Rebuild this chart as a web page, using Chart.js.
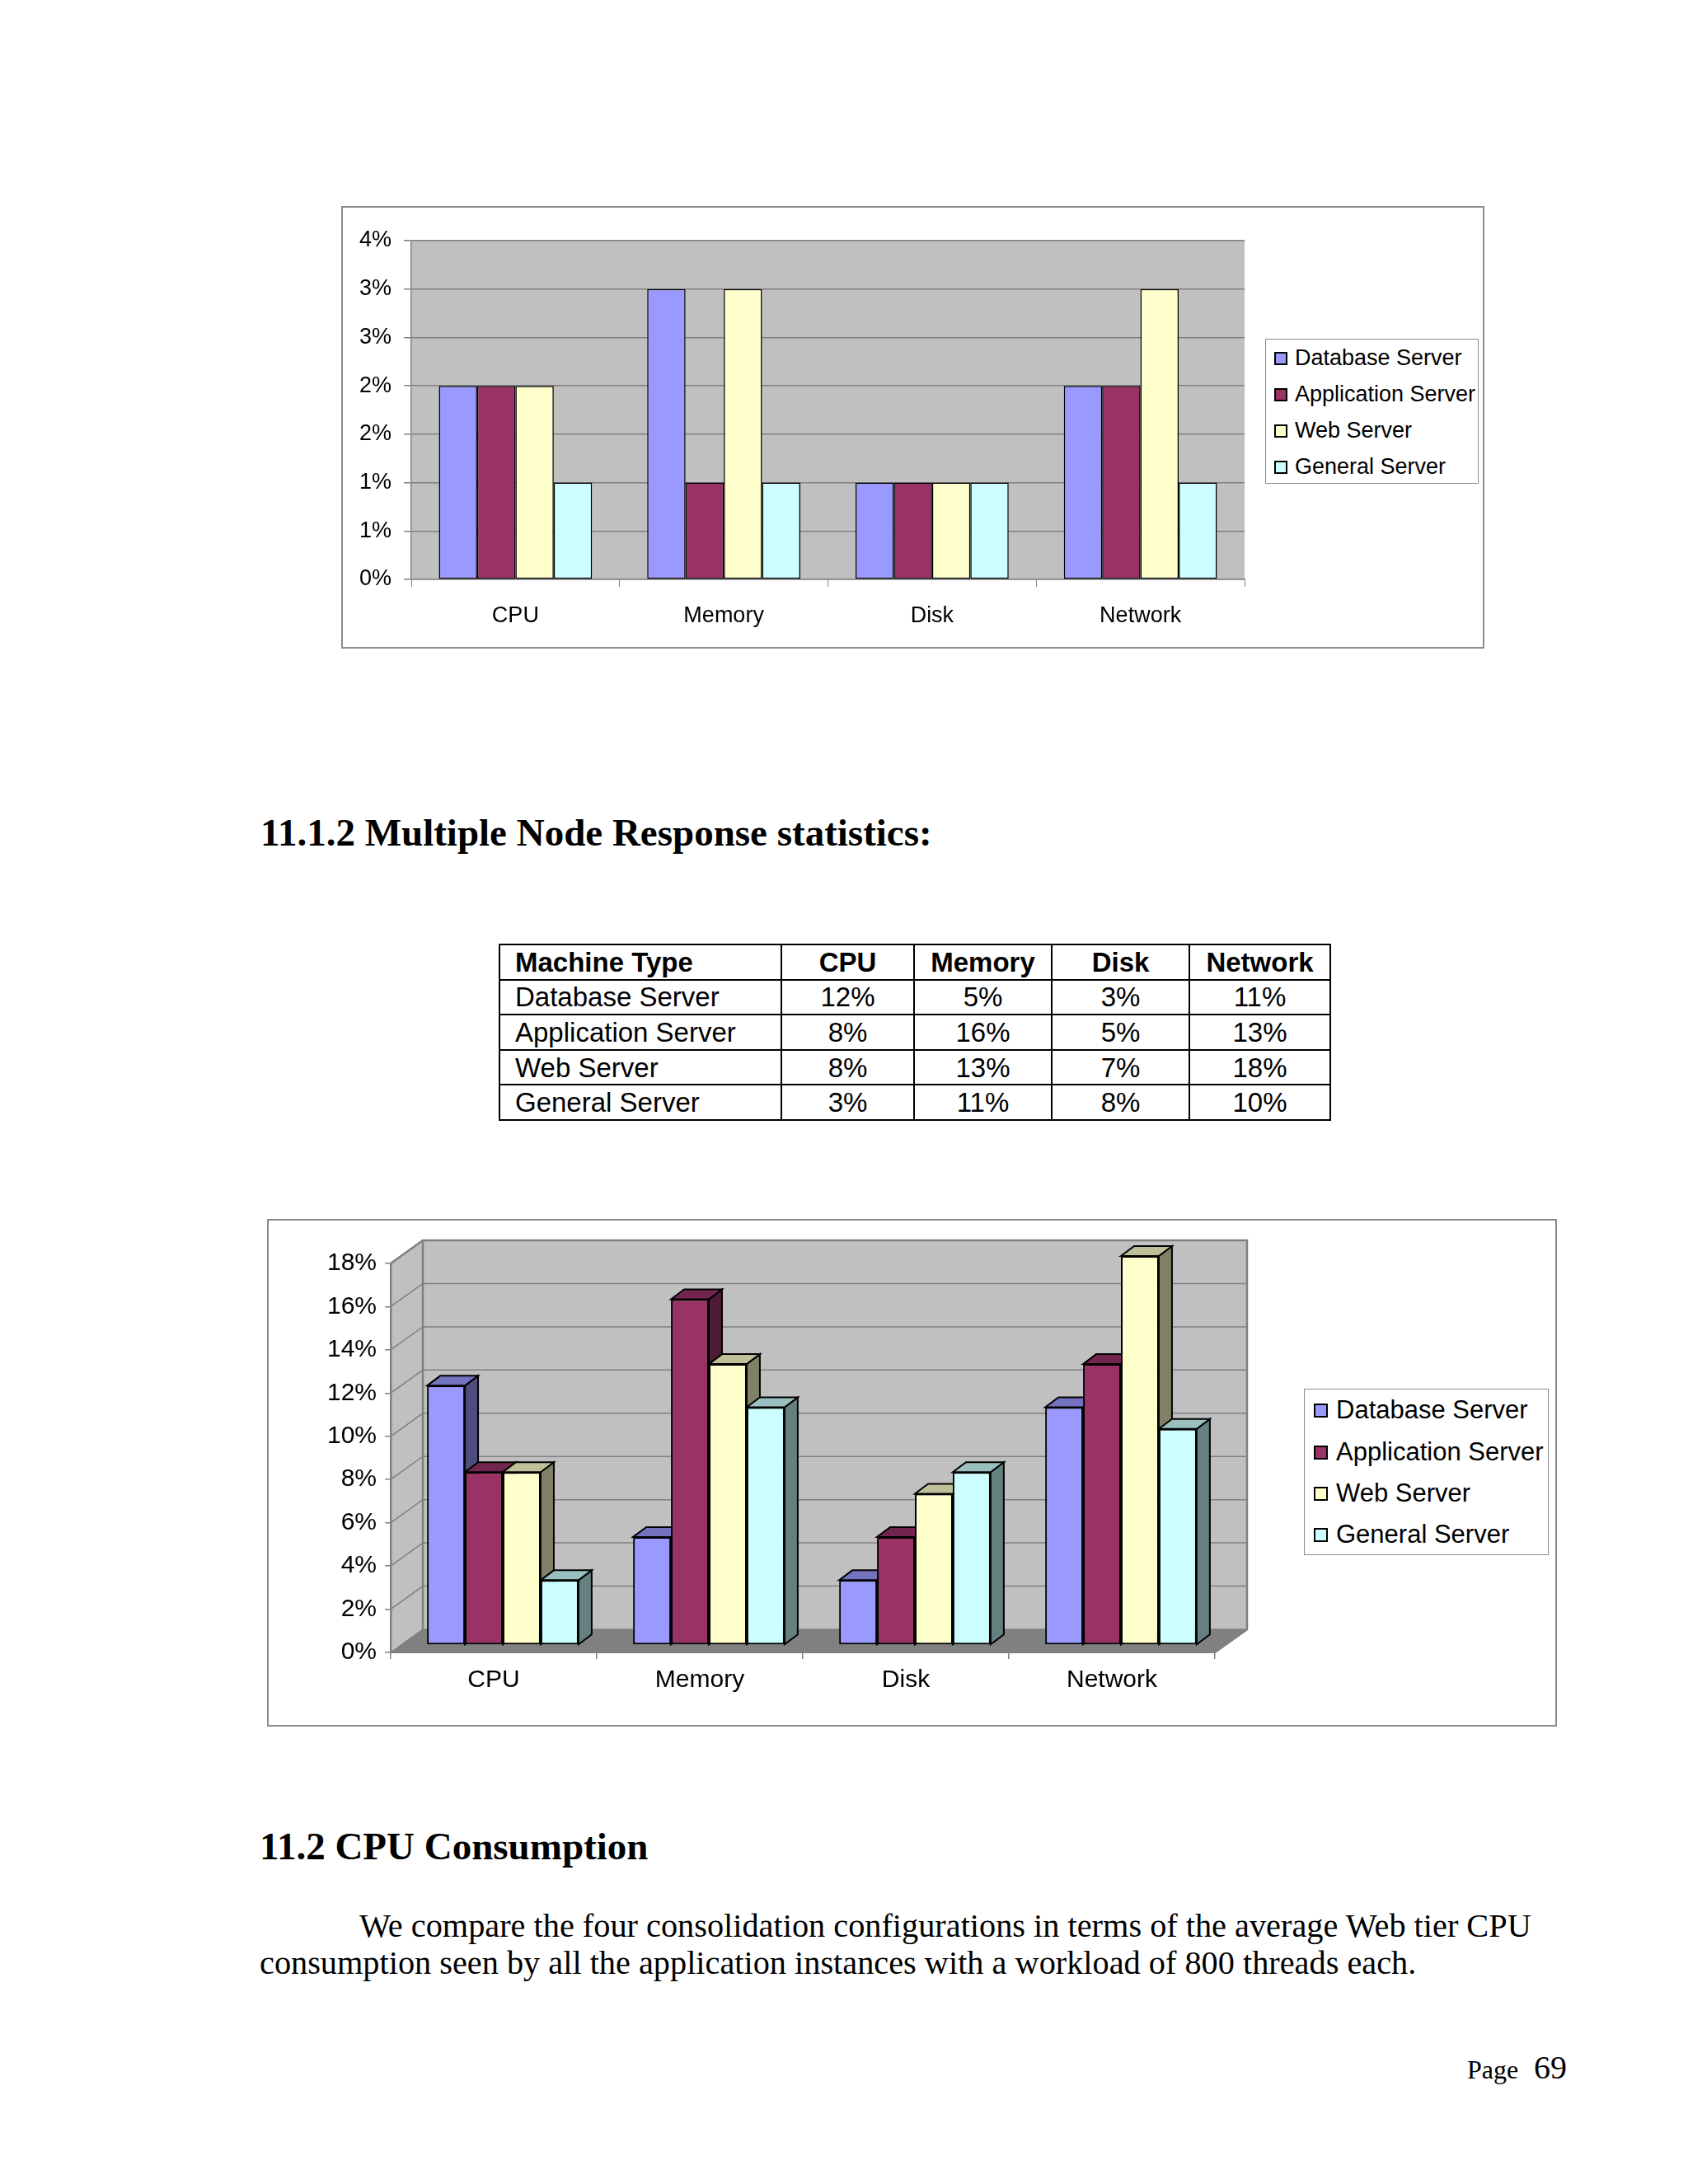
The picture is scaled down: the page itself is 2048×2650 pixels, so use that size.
<!DOCTYPE html>
<html>
<head>
<meta charset="utf-8">
<script src="https://cdn.jsdelivr.net/npm/chart.js@4.4.1/dist/chart.umd.min.js"></script>
<style>
  html, body { margin: 0; padding: 0; background: #fff; }
  body { position: relative; width: 2048px; height: 2650px; overflow: hidden; font-family: "Liberation Sans", Arial, sans-serif; color: #000; }
  .abs { position: absolute; }
  .frame { position: absolute; border: 2px solid #8c8c8c; box-sizing: border-box; background: #fff; }
  .serif { font-family: "Liberation Serif", "Times New Roman", serif; line-height: 1; white-space: nowrap; }
  .legend { position: absolute; border: 1.5px solid #8c8c8c; box-sizing: border-box; background: #fff; }
  .legend .item { position: absolute; white-space: nowrap; line-height: 1; }
  .legend .sw { position: absolute; border: 2px solid #000; box-sizing: border-box; }
  table.stats { position: absolute; left: 605px; top: 1145px; width: 1008px; table-layout: fixed; border-collapse: collapse; font-size: 33px; }
  table.stats tr { height: 42.6px; }
  table.stats td, table.stats th { border: 2px solid #000; padding: 0; line-height: 1; overflow: hidden; white-space: nowrap; }
  table.stats th { font-weight: bold; text-align: center; }
  table.stats td { text-align: center; }
  table.stats .first { text-align: left; padding-left: 18px; }
</style>
</head>
<body>

<div class="frame" style="left:414px; top:250px; width:1387px; height:537px;"></div>
<canvas id="singleChart" class="abs" style="left:414px; top:250px;"></canvas>
<div id="singleLegend" class="legend" style="left:1535px; top:411px; width:259px; height:176px;"></div>

<div class="serif abs" style="left:316px; top:987px; font-size:47px; font-weight:bold;">11.1.2 Multiple Node Response statistics:</div>

<table class="stats" id="statsTable"></table>

<div class="frame" style="left:324px; top:1479px; width:1565px; height:616px;"></div>
<canvas id="multiChart" class="abs" style="left:324px; top:1479px;"></canvas>
<div id="multiLegend" class="legend" style="left:1582px; top:1685px; width:297px; height:202px;"></div>

<div class="serif abs" style="left:315px; top:2217px; font-size:47px; font-weight:bold;">11.2 CPU Consumption</div>
<div class="serif abs" style="left:436px; top:2317px; font-size:40.3px;">We compare the four consolidation configurations in terms of the average Web tier CPU</div>
<div class="serif abs" style="left:315px; top:2362px; font-size:40.3px;">consumption seen by all the application instances with a workload of 800 threads each.</div>
<div class="serif abs" style="left:1780px; top:2495px; font-size:32px;">Page</div>
<div class="serif abs" style="left:1861px; top:2489px; font-size:40px;">69</div>

<script>
const categories = ["CPU", "Memory", "Disk", "Network"];
const seriesNames = ["Database Server", "Application Server", "Web Server", "General Server"];
const seriesColors = ["#9999FF", "#993366", "#FFFFCC", "#CCFFFF"];

// single node chart (upper), percent values
const dbSingle = [2, 3, 1, 2];
const appSingle = [2, 1, 1, 2];
const webSingle = [2, 3, 1, 3];
const genSingle = [1, 1, 1, 1];
const singleTicks = [0, 0.5, 1, 1.5, 2, 2.5, 3, 3.5];

// multiple node response statistics (table + 3D chart)
const dbMulti = [12, 5, 3, 11];
const appMulti = [8, 16, 5, 13];
const webMulti = [8, 13, 7, 18];
const genMulti = [3, 11, 8, 10];
const multiTicks = [0, 2, 4, 6, 8, 10, 12, 14, 16, 18];

Chart.defaults.font.family = "'Liberation Sans', Arial, sans-serif";
Chart.defaults.color = "#000";
Chart.defaults.animation = false;

function shade(hex, f) {
  const n = parseInt(hex.slice(1), 16);
  const r = Math.round(((n >> 16) & 255) * f);
  const g = Math.round(((n >> 8) & 255) * f);
  const b = Math.round((n & 255) * f);
  return `rgb(${r},${g},${b})`;
}

function buildLegend(id, fontSize, rowTops, swX, swSize, textX) {
  const box = document.getElementById(id);
  seriesNames.forEach((name, i) => {
    const sw = document.createElement("div");
    sw.className = "sw";
    sw.style.left = swX + "px";
    sw.style.top = (rowTops[i] - swSize / 2) + "px";
    sw.style.width = swSize + "px";
    sw.style.height = swSize + "px";
    sw.style.background = seriesColors[i];
    box.appendChild(sw);
    const t = document.createElement("div");
    t.className = "item";
    t.style.left = textX + "px";
    t.style.top = (rowTops[i] - fontSize * 0.52) + "px";
    t.style.fontSize = fontSize + "px";
    t.textContent = name;
    box.appendChild(t);
  });
}

function buildTable() {
  const tbl = document.getElementById("statsTable");
  const widths = [342, 161, 167, 167, 171];
  const rows = [dbMulti, appMulti, webMulti, genMulti];
  let html = "<colgroup>" + widths.map((w) => `<col style="width:${w}px">`).join("") + "</colgroup><tr>";
  ["Machine Type"].concat(categories).forEach((h, i) => {
    html += `<th class="${i === 0 ? "first" : ""}">${h}</th>`;
  });
  html += "</tr>";
  rows.forEach((vals, r) => {
    html += `<tr><td class="first">${seriesNames[r]}</td>`;
    vals.forEach((v) => { html += `<td>${v}%</td>`; });
    html += "</tr>";
  });
  tbl.innerHTML = html;
}

const plotBg = {
  id: "plotBg",
  beforeDraw(chart) {
    const a = chart.chartArea;
    const ctx = chart.ctx;
    ctx.save();
    ctx.fillStyle = "#C0C0C0";
    ctx.fillRect(a.left, a.top, a.right - a.left, a.bottom - a.top);
    ctx.restore();
  },
};

// 3D walls + extruded bars for the lower chart
const DX = 39, DY = -28;      // wall depth
const BDX = 16, BDY = -12;    // bar depth
const SHIFT_X = 11, SHIFT_Y = -9;

const walls3d = {
  id: "walls3d",
  beforeDraw(chart) {
    const a = chart.chartArea;
    const ctx = chart.ctx;
    const ys = chart.scales.y;
    const L = a.left, R = a.right, T = a.top, B = a.bottom;
    ctx.save();
    ctx.lineJoin = "miter";
    // floor
    ctx.fillStyle = "#808080";
    ctx.beginPath();
    ctx.moveTo(L, B); ctx.lineTo(R, B); ctx.lineTo(R + DX, B + DY); ctx.lineTo(L + DX, B + DY);
    ctx.closePath(); ctx.fill();
    // left wall
    ctx.fillStyle = "#C0C0C0";
    ctx.beginPath();
    ctx.moveTo(L, B); ctx.lineTo(L, T); ctx.lineTo(L + DX, T + DY); ctx.lineTo(L + DX, B + DY);
    ctx.closePath(); ctx.fill();
    // back wall
    ctx.fillRect(L + DX, T + DY, R - L, B - T);
    // grid lines
    ctx.strokeStyle = "#808080";
    ctx.lineWidth = 1.5;
    multiTicks.forEach((v) => {
      const y = ys.getPixelForValue(v);
      ctx.beginPath();
      ctx.moveTo(L, y); ctx.lineTo(L + DX, y + DY); ctx.lineTo(R + DX, y + DY);
      ctx.stroke();
    });
    // wall edges
    ctx.lineWidth = 2.5;
    ctx.beginPath();
    ctx.moveTo(L, T); ctx.lineTo(L + DX, T + DY); ctx.lineTo(R + DX, T + DY);
    ctx.lineTo(R + DX, B + DY); ctx.lineTo(R, B);
    ctx.moveTo(L + DX, T + DY); ctx.lineTo(L + DX, B + DY);
    ctx.stroke();
    ctx.restore();
  },
  beforeDatasetsDraw(chart) {
    const ctx = chart.ctx;
    ctx.save();
    ctx.translate(SHIFT_X, SHIFT_Y);
    ctx.lineWidth = 2;
    ctx.strokeStyle = "#000";
    ctx.lineJoin = "miter";
    chart.data.datasets.forEach((ds, di) => {
      const meta = chart.getDatasetMeta(di);
      meta.data.forEach((el) => {
        const p = el.getProps(["x", "y", "base", "width"], true);
        const l = p.x - p.width / 2, r = p.x + p.width / 2;
        // side
        ctx.fillStyle = shade(seriesColors[di], 0.5);
        ctx.beginPath();
        ctx.moveTo(r, p.y); ctx.lineTo(r + BDX, p.y + BDY); ctx.lineTo(r + BDX, p.base + BDY); ctx.lineTo(r, p.base);
        ctx.closePath(); ctx.fill(); ctx.stroke();
        // top
        ctx.fillStyle = shade(seriesColors[di], 0.75);
        ctx.beginPath();
        ctx.moveTo(l, p.y); ctx.lineTo(l + BDX, p.y + BDY); ctx.lineTo(r + BDX, p.y + BDY); ctx.lineTo(r, p.y);
        ctx.closePath(); ctx.fill(); ctx.stroke();
      });
    });
  },
  afterDatasetsDraw(chart) {
    chart.ctx.restore();
  },
};

function makeDatasets(seriesList, bw) {
  return seriesList.map((vals, i) => ({
    label: seriesNames[i],
    data: vals,
    backgroundColor: seriesColors[i],
    borderColor: "#000",
    borderWidth: bw,
    borderSkipped: false,
    categoryPercentage: 0.735,
    barPercentage: 1.0,
  }));
}

function drawSingleChart() {
  const cv = document.getElementById("singleChart");
  cv.width = 1387; cv.height = 537;
  cv.style.width = "1387px"; cv.style.height = "537px";
  new Chart(cv.getContext("2d"), {
    type: "bar",
    data: { labels: categories, datasets: makeDatasets([dbSingle, appSingle, webSingle, genSingle], 1.5) },
    options: {
      responsive: false,
      layout: { padding: { top: 42, right: 291, bottom: 0, left: 0 } },
      plugins: { legend: { display: false }, tooltip: { enabled: false } },
      scales: {
        x: {
          afterFit: (s) => { s.height = 84; },
          grid: { drawOnChartArea: false, tickLength: 9, color: "#808080", offset: true },
          border: { color: "#808080", width: 1.5 },
          ticks: { font: { size: 27 }, padding: 19, color: "#000" },
        },
        y: {
          min: 0, max: 3.5,
          afterFit: (s) => { s.width = 85; },
          afterBuildTicks: (s) => { s.ticks = singleTicks.map((v) => ({ value: v })); },
          grid: { color: "#808080", lineWidth: 1.5, tickLength: 9 },
          border: { color: "#808080", width: 1.5 },
          ticks: { font: { size: 27 }, padding: 15, color: "#000", callback: (v) => Math.round(v) + "%" },
        },
      },
    },
    plugins: [plotBg],
  });
}

function drawMultiChart() {
  const cv = document.getElementById("multiChart");
  cv.width = 1565; cv.height = 616;
  cv.style.width = "1565px"; cv.style.height = "616px";
  new Chart(cv.getContext("2d"), {
    type: "bar",
    data: { labels: categories, datasets: makeDatasets([dbMulti, appMulti, webMulti, genMulti], 2) },
    options: {
      responsive: false,
      layout: { padding: { top: 54, right: 415, bottom: 0, left: 0 } },
      plugins: { legend: { display: false }, tooltip: { enabled: false } },
      scales: {
        x: {
          afterFit: (s) => { s.height = 90; },
          grid: { drawOnChartArea: false, tickLength: 8, color: "#808080", lineWidth: 1.5, offset: true },
          border: { color: "#808080", width: 2 },
          ticks: { font: { size: 30 }, padding: 8, color: "#000" },
        },
        y: {
          min: 0, max: 18,
          afterFit: (s) => { s.width = 150; },
          afterBuildTicks: (s) => { s.ticks = multiTicks.map((v) => ({ value: v })); },
          grid: { drawOnChartArea: false, tickLength: 7, color: "#808080", lineWidth: 1.5 },
          border: { color: "#808080", width: 2.5 },
          ticks: { font: { size: 30 }, padding: 10, color: "#000", callback: (v) => v + "%" },
        },
      },
    },
    plugins: [walls3d],
  });
}

document.addEventListener("DOMContentLoaded", () => {
  buildTable();
  buildLegend("singleLegend", 27, [23, 67, 111, 155], 10, 16, 35);
  buildLegend("multiLegend", 31, [25, 76, 126, 176], 11, 17, 38);
  drawSingleChart();
  drawMultiChart();
});
</script>
</body>
</html>
